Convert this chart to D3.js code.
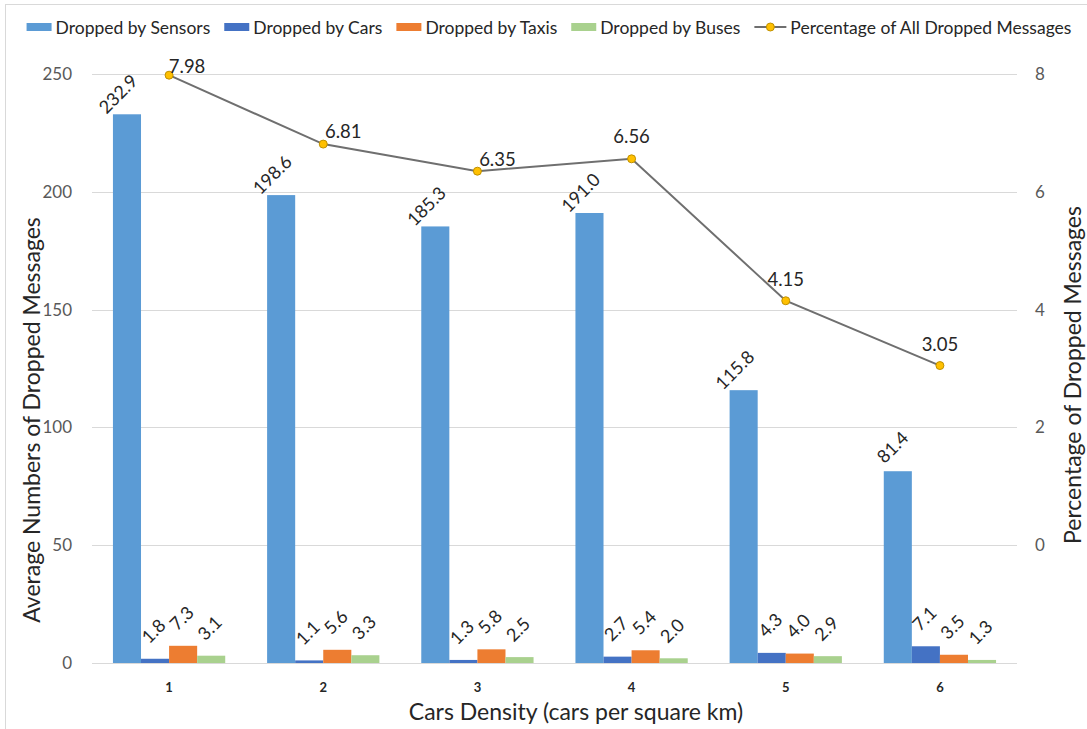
<!DOCTYPE html>
<html>
<head>
<meta charset="utf-8">
<script src="https://cdn.jsdelivr.net/npm/d3@7"></script>
<style>
body { margin: 0; background: #fff; }
text { font-family: Lato, "Open Sans", sans-serif; }
</style>
</head>
<body>
<script>

var categories = ["1", "2", "3", "4", "5", "6"];
var seriesNames = ["Dropped by Sensors", "Dropped by Cars", "Dropped by Taxis", "Dropped by Buses"];
var sensors = [232.9, 198.6, 185.3, 191.0, 115.8, 81.4];
var cars = [1.8, 1.1, 1.3, 2.7, 4.3, 7.1];
var taxis = [7.3, 5.6, 5.8, 5.4, 4.0, 3.5];
var buses = [3.1, 3.3, 2.5, 2.0, 2.9, 1.3];
var lineName = "Percentage of All Dropped Messages";
var percentage = [7.98, 6.81, 6.35, 6.56, 4.15, 3.05];
var leftTicks = [0, 50, 100, 150, 200, 250];
var rightTicks = [0, 2, 4, 6, 8];

var colors = ["#5B9BD5", "#4472C4", "#ED7D31", "#A9D18E"];

// the line labels were nudged by hand in the original
var lineLabelDx = [18, 20, 20, 0, 0, 0];
var lineLabelDy = [-2, -6, -5, -16, -15, -15];

var width = 1087,
    height = 729,
    plotLeft = 92,
    plotRight = 1017,
    plotTop = 74,
    plotBottom = 663;

var svg = d3.select("body").append("svg")
    .attr("width", width)
    .attr("height", height);

// light frame round the chart
svg.append("rect")
    .attr("x", 5.5).attr("y", 4.5)
    .attr("width", 1100).attr("height", 760)
    .attr("fill", "none")
    .attr("stroke", "#d9d9d9");

var x0 = d3.scaleBand().domain(categories).range([plotLeft, plotRight]);
var x1 = d3.scaleBand().domain(seriesNames).range([0, x0.bandwidth()])
    .paddingInner(0).paddingOuter(0.746);
var yL = d3.scaleLinear().domain([0, 250]).range([plotBottom, plotTop]);
var yR = d3.scaleLinear().domain([-2, 8]).range([plotBottom, plotTop]);

// grid
svg.append("g").selectAll("line")
    .data(leftTicks)
    .enter().append("line")
    .attr("x1", plotLeft).attr("x2", plotRight)
    .attr("y1", function(d) { return Math.round(yL(d)) + 0.5; })
    .attr("y2", function(d) { return Math.round(yL(d)) + 0.5; })
    .attr("stroke", "#d9d9d9")
    .attr("stroke-width", 1);

// left axis
var axL = svg.append("g")
    .attr("transform", "translate(" + (plotLeft - 20) + ",0)")
    .call(d3.axisLeft(yL).tickValues(leftTicks).tickSize(0).tickPadding(0));
axL.select(".domain").remove();
axL.selectAll("text")
    .style("font-size", "17px")
    .attr("fill", "#595959");

// right axis
var axR = svg.append("g")
    .attr("transform", "translate(" + (plotRight + 18) + ",0)")
    .call(d3.axisRight(yR).tickValues(rightTicks).tickSize(0).tickPadding(0));
axR.select(".domain").remove();
axR.selectAll("text")
    .style("font-size", "17px")
    .attr("fill", "#595959");

// category labels
var axB = svg.append("g")
    .attr("transform", "translate(0," + plotBottom + ")")
    .call(d3.axisBottom(x0).tickSize(0).tickPadding(20));
axB.select(".domain").remove();
axB.selectAll("text")
    .style("font-size", "13px")
    .style("font-weight", "bold")
    .attr("fill", "#262626");

var seriesValues = [sensors, cars, taxis, buses];

var groups = svg.append("g").selectAll("g")
    .data(seriesValues)
    .enter().append("g")
    .attr("fill", function(d, i) { return colors[i]; });

function cells(vals, i) {
    return vals.map(function(v, j) { return { s: seriesNames[i], c: categories[j], v: v }; });
}

groups.selectAll("rect")
    .data(cells)
    .enter().append("rect")
    .attr("x", function(d) { return x0(d.c) + x1(d.s); })
    .attr("y", function(d) { return yL(d.v); })
    .attr("width", x1.bandwidth())
    .attr("height", function(d) { return plotBottom - yL(d.v); });

groups.selectAll("text")
    .data(cells)
    .enter().append("text")
    .attr("transform", function(d) {
        var cx = x0(d.c) + x1(d.s) + x1.bandwidth() / 2;
        return "translate(" + (cx + 7) + "," + (yL(d.v) - 37) + ") rotate(-45)";
    })
    .attr("text-anchor", "end")
    .attr("dominant-baseline", "central")
    .attr("fill", "#262626")
    .style("font-size", "18px")
    .text(function(d) { return d.v.toFixed(1); });

// percentage line
var lineGen = d3.line()
    .x(function(d, i) { return x0(categories[i]) + x0.bandwidth() / 2; })
    .y(function(d) { return yR(d); });

svg.append("path")
    .datum(percentage)
    .attr("d", lineGen)
    .attr("fill", "none")
    .attr("stroke", "#6f6f6f")
    .attr("stroke-width", 2);

svg.append("g").selectAll("circle")
    .data(percentage)
    .enter().append("circle")
    .attr("cx", function(d, i) { return x0(categories[i]) + x0.bandwidth() / 2; })
    .attr("cy", function(d) { return yR(d); })
    .attr("r", 4)
    .attr("fill", "#FFC000")
    .attr("stroke", "#bf9000")
    .attr("stroke-width", 1);

svg.append("g").selectAll("text")
    .data(percentage)
    .enter().append("text")
    .attr("x", function(d, i) { return x0(categories[i]) + x0.bandwidth() / 2 + lineLabelDx[i]; })
    .attr("y", function(d, i) { return yR(d) + lineLabelDy[i]; })
    .attr("text-anchor", "middle")
    .attr("fill", "#262626")
    .style("font-size", "18.5px")
    .text(function(d) { return d.toFixed(2); });

// axis titles
svg.append("text")
    .attr("transform", "translate(31,420) rotate(-90)")
    .attr("text-anchor", "middle")
    .attr("dominant-baseline", "central")
    .attr("fill", "#262626")
    .style("font-size", "23px")
    .text("Average Numbers of Dropped Messages");

svg.append("text")
    .attr("transform", "translate(1072,375) rotate(-90)")
    .attr("text-anchor", "middle")
    .attr("dominant-baseline", "central")
    .attr("fill", "#262626")
    .style("font-size", "23px")
    .text("Percentage of Dropped Messages");

svg.append("text")
    .attr("x", 576).attr("y", 720)
    .attr("text-anchor", "middle")
    .attr("fill", "#262626")
    .style("font-size", "23px")
    .text("Cars Density (cars per square km)");

// legend, laid out in one row and centred
var legend = svg.append("g");
var items = seriesNames.concat([lineName]);
var lx = 0;
items.forEach(function(name, i) {
    var g = legend.append("g").attr("transform", "translate(" + lx + ",0)");
    var sw = i < 4 ? 25 : 32;
    if (i < 4) {
        g.append("rect")
            .attr("x", 0).attr("y", -4)
            .attr("width", sw).attr("height", 8)
            .attr("fill", colors[i]);
    } else {
        g.append("line")
            .attr("x1", 0).attr("x2", sw)
            .attr("y1", 0).attr("y2", 0)
            .attr("stroke", "#6f6f6f").attr("stroke-width", 2);
        g.append("circle")
            .attr("cx", sw / 2).attr("cy", 0).attr("r", 4)
            .attr("fill", "#FFC000").attr("stroke", "#bf9000");
    }
    var t = g.append("text")
        .attr("x", sw + 4).attr("y", 0)
        .attr("dominant-baseline", "central")
        .attr("fill", "#262626")
        .style("font-size", "17.5px")
        .text(name);
    lx += sw + 4 + t.node().getComputedTextLength() + 14;
});
lx -= 14;
legend.attr("transform", "translate(" + (549 - lx / 2) + ",27)");

</script>
</body>
</html>
